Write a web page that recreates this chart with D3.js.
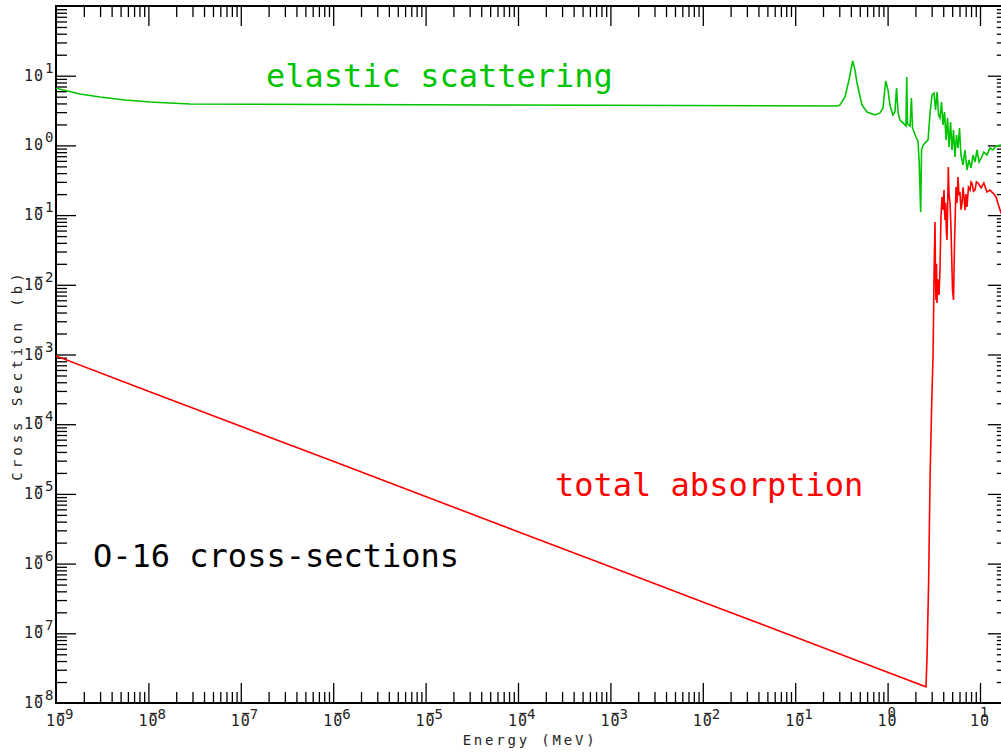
<!DOCTYPE html>
<html>
<head>
<meta charset="utf-8">
<script src="https://cdn.jsdelivr.net/npm/d3@7"></script>
<style>
  html, body { margin: 0; padding: 0; background: #fff; overflow: hidden; }
  svg { display: block; }
</style>
</head>
<body>
<script>
// ---- Data ----
// Elastic scattering cross section (barns) vs energy (MeV)
const elasticE = [1e-9, 1.82e-9, 2.99e-9, 5.59e-9, 1.04e-8, 2.82e-8, 6.4e-5, 0.290, 0.305, 0.346,
  0.382, 0.419, 0.443, 0.467, 0.528, 0.598, 0.731, 0.828, 0.891, 0.953,
  1.01, 1.06, 1.14, 1.20, 1.25, 1.30, 1.36, 1.47, 1.58, 1.61,
  1.64, 1.75, 1.81, 1.86, 2.03, 2.13, 2.20, 2.28, 2.33, 2.42,
  2.74, 2.88, 3.03, 3.18, 3.30, 3.43, 3.56, 3.69, 3.83, 3.98,
  4.13, 4.29, 4.45, 4.62, 4.80, 4.98, 5.17, 5.36, 5.57, 5.78,
  6.00, 6.22, 6.55, 6.88, 7.23, 7.60, 8.00, 8.40, 8.83, 9.29,
  9.76, 10.3, 11.0, 11.9, 12.8, 13.8, 14.9, 16.9, 20];
const elasticS = [6.6, 5.46, 4.95, 4.48, 4.20, 3.93, 3.8, 3.67, 3.80, 4.95,
  8.67, 16.3, 12.1, 7.85, 3.80, 3.01, 2.73, 2.92, 3.44, 8.40,
  6.24, 3.80, 2.73, 3.01, 6.66, 2.92, 2.31, 2.10, 1.90, 9.58,
  2.03, 1.90, 4.79, 1.78, 1.32, 1.16, 0.559, 0.111, 0.859, 1.01,
  1.20, 2.92, 5.28, 5.65, 3.22, 5.84, 2.73, 2.47, 4.20, 1.96,
  3.01, 1.20, 2.47, 0.948, 2.17, 0.859, 1.66, 0.682, 1.41, 0.918,
  1.78, 0.728, 0.524, 0.859, 0.444, 0.617, 0.474, 0.728, 0.578, 0.859,
  0.578, 0.659, 0.804, 0.728, 0.918, 0.859, 0.98, 1.01, 1.03];

// Total absorption cross section (barns) vs energy (MeV)
const absorptionE = [1e-9, 1e-8, 1e-7, 1e-6, 1e-5, 1e-4, 1e-3, 1e-2, 1e-1, 1,
  2.60, 2.67, 2.78, 2.88, 3.00, 3.10, 3.14, 3.18, 3.22, 3.26,
  3.30, 3.34, 3.38, 3.42, 3.51, 3.60, 3.69, 3.78, 3.88, 3.98,
  4.08, 4.13, 4.18, 4.25, 4.32, 4.39, 4.46, 4.54, 4.62, 4.74,
  4.85, 5.04, 5.17, 5.30, 5.50, 5.64, 5.78, 5.92, 6.07, 6.23,
  6.39, 6.55, 6.71, 6.88, 7.05, 7.23, 7.50, 7.80, 8.00, 8.19,
  8.50, 8.83, 9.15, 9.51, 10.3, 11.0, 11.9, 12.8, 13.8, 14.9,
  16.1, 16.9, 20];
const absorptionS = [9.52e-4, 2.98e-4, 9.34e-5, 2.93e-5, 9.17e-6, 2.87e-6, 9.01e-7, 2.82e-7, 8.84e-8, 2.77e-8,
  1.71e-8, 4.42e-8, 5.44e-7, 1.69e-5, 1.88e-4, 9.2e-4, 3.13e-3, 1.29e-2, 3.5e-2, 7.96e-2,
  1.2e-2, 6.05e-3, 2.0e-2, 5.48e-3, 1.2e-2, 7.15e-3, 1.63e-2, 9.40e-2, 0.182, 0.12,
  0.229, 0.12, 8.51e-2, 0.15, 0.06, 4.39e-2, 0.12, 0.490, 0.2, 0.149,
  6.75e-2, 8.42e-3, 6.05e-3, 3.98e-2, 0.253, 0.15, 0.352, 0.2, 0.207, 0.12,
  0.149, 0.25, 0.182, 0.118, 0.2, 0.131, 0.25, 0.229, 0.3, 0.289,
  0.22, 0.229, 0.3, 0.289, 0.245, 0.289, 0.214, 0.229, 0.207, 0.182,
  0.131, 0.107, 0.085];

// Axis decades (exponents) and labels
const xDecades = [-9, -8, -7, -6, -5, -4, -3, -2, -1, 0, 1];
const yDecades = [-8, -7, -6, -5, -4, -3, -2, -1, 0, 1];
const xDomain = [1e-9, 20];
const yDomain = [1e-8, 1e2];
const xTitle = "Energy (MeV)";
const yTitle = "Cross Section (b)";
const annElastic = "elastic scattering";
const annAbsorption = "total absorption";
const annTitle = "O-16 cross-sections";

(function () {
// ---- Layout ----
const W = 1001, H = 753;
const padL = 56, padT = 6, padB = 703;
const decadePx = 92.4;
const padR = padL + decadePx * (Math.log10(xDomain[1]) - Math.log10(xDomain[0]));

const GREEN = "#00c400", RED = "#ff0000";
const MONO = "'DejaVu Sans Mono', monospace";

const svg = d3.select("body").append("svg").attr("width", W).attr("height", H);

const x = d3.scaleLog().domain(xDomain).range([padL, padR]);
const y = d3.scaleLog().domain(yDomain).range([padB, padT]);

const p10 = n => parseFloat("1e" + n);
const xMajor = xDecades.filter(n => n > -9).map(p10);
const xMinor = [];
xDecades.forEach(n => { for (let k = 2; k <= 9; k++) { const v = k * p10(n); if (v <= xDomain[1] * 1.0001) xMinor.push(v); } });
const yMajor = yDecades.filter(n => n > -8).map(p10);
const yMinor = [];
yDecades.forEach(n => { for (let k = 2; k <= 9; k++) yMinor.push(k * p10(n)); });

function drawAxis(axis, transform) {
  const g = svg.append("g").attr("transform", transform).call(axis);
  g.select(".domain").remove();
  g.selectAll(".tick line").attr("stroke", "#000").attr("stroke-width", 1.3);
  g.selectAll("text").remove();
}
const MAJ = 20, MIN = 11;
drawAxis(d3.axisTop(x).tickValues(xMajor).tickSize(MAJ).tickSizeOuter(0).tickFormat(""), `translate(0,${padB})`);
drawAxis(d3.axisTop(x).tickValues(xMinor).tickSize(MIN).tickSizeOuter(0).tickFormat(""), `translate(0,${padB})`);
drawAxis(d3.axisBottom(x).tickValues(xMajor).tickSize(MAJ).tickSizeOuter(0).tickFormat(""), `translate(0,${padT})`);
drawAxis(d3.axisBottom(x).tickValues(xMinor).tickSize(MIN).tickSizeOuter(0).tickFormat(""), `translate(0,${padT})`);
drawAxis(d3.axisRight(y).tickValues(yMajor).tickSize(MAJ).tickSizeOuter(0).tickFormat(""), `translate(${padL},0)`);
drawAxis(d3.axisRight(y).tickValues(yMinor).tickSize(MIN).tickSizeOuter(0).tickFormat(""), `translate(${padL},0)`);
drawAxis(d3.axisLeft(y).tickValues(yMajor).tickSize(MAJ).tickSizeOuter(0).tickFormat(""), `translate(${padR},0)`);
drawAxis(d3.axisLeft(y).tickValues(yMinor).tickSize(MIN).tickSizeOuter(0).tickFormat(""), `translate(${padR},0)`);

svg.append("rect").attr("x", padL).attr("y", padT).attr("width", padR - padL).attr("height", padB - padT)
  .attr("fill", "none").attr("stroke", "#000").attr("stroke-width", 2);

// ---- curves ----
svg.append("clipPath").attr("id", "clip").append("rect")
  .attr("x", padL).attr("y", padT).attr("width", padR - padL).attr("height", padB - padT);
const line = d3.line().x(d => x(d[0])).y(d => y(d[1]));
const elastic = elasticE.map((e, i) => [e, elasticS[i]]);
const absorption = absorptionE.map((e, i) => [e, absorptionS[i]]);
svg.append("path").datum(absorption).attr("d", line).attr("clip-path", "url(#clip)")
  .attr("fill", "none").attr("stroke", RED).attr("stroke-width", 1.6);
svg.append("path").datum(elastic).attr("d", line).attr("clip-path", "url(#clip)")
  .attr("fill", "none").attr("stroke", GREEN).attr("stroke-width", 1.6);

// ---- tick labels ----
const lab = svg.append("g").attr("font-family", MONO).attr("fill", "#222");
function txt(s, tx, ty, size) {
  lab.append("text").attr("x", tx).attr("y", ty).attr("font-size", size).text(s);
}
yDecades.forEach(n => {
  const ty = y(p10(n));
  txt("1", 24, ty + 5, 15);
  txt("0", 34, ty + 5, 15);
  if (n < 0) {
    lab.append("line").attr("x1", 35.5).attr("x2", 42.5).attr("y1", ty - 7.5).attr("y2", ty - 7.5)
      .attr("stroke", "#222").attr("stroke-width", 1.3);
  }
  txt(String(Math.abs(n)), 45, ty - 3, 14);
});
xDecades.forEach(n => {
  const tx = x(p10(n));
  txt("1", tx - 10, 726, 15);
  txt("0", tx, 726, 15);
  if (n < 0) {
    lab.append("line").attr("x1", tx + 1.5).attr("x2", tx + 8.5).attr("y1", 713.5).attr("y2", 713.5)
      .attr("stroke", "#222").attr("stroke-width", 1.3);
    txt(String(-n), tx + 9, 719, 14);
  } else {
    txt(String(n), tx, 717, 14);
  }
});

// ---- axis titles ----
svg.append("text").attr("x", 530).attr("y", 745).attr("text-anchor", "middle")
  .attr("font-family", MONO).attr("font-size", 14).attr("letter-spacing", 2.8).attr("fill", "#222")
  .text(xTitle);
svg.append("text").attr("transform", "translate(22,375) rotate(-90)").attr("text-anchor", "middle")
  .attr("font-family", MONO).attr("font-size", 14).attr("letter-spacing", 4).attr("fill", "#222")
  .text(yTitle);

// ---- annotations ----
svg.append("text").attr("x", 266).attr("y", 87).attr("font-family", MONO).attr("font-size", 32)
  .attr("fill", GREEN).text(annElastic);
svg.append("text").attr("x", 555).attr("y", 496).attr("font-family", MONO).attr("font-size", 32)
  .attr("fill", RED).text(annAbsorption);
svg.append("text").attr("x", 93).attr("y", 567).attr("font-family", MONO).attr("font-size", 32)
  .attr("fill", "#000").text(annTitle);
})();
</script>
</body>
</html>
